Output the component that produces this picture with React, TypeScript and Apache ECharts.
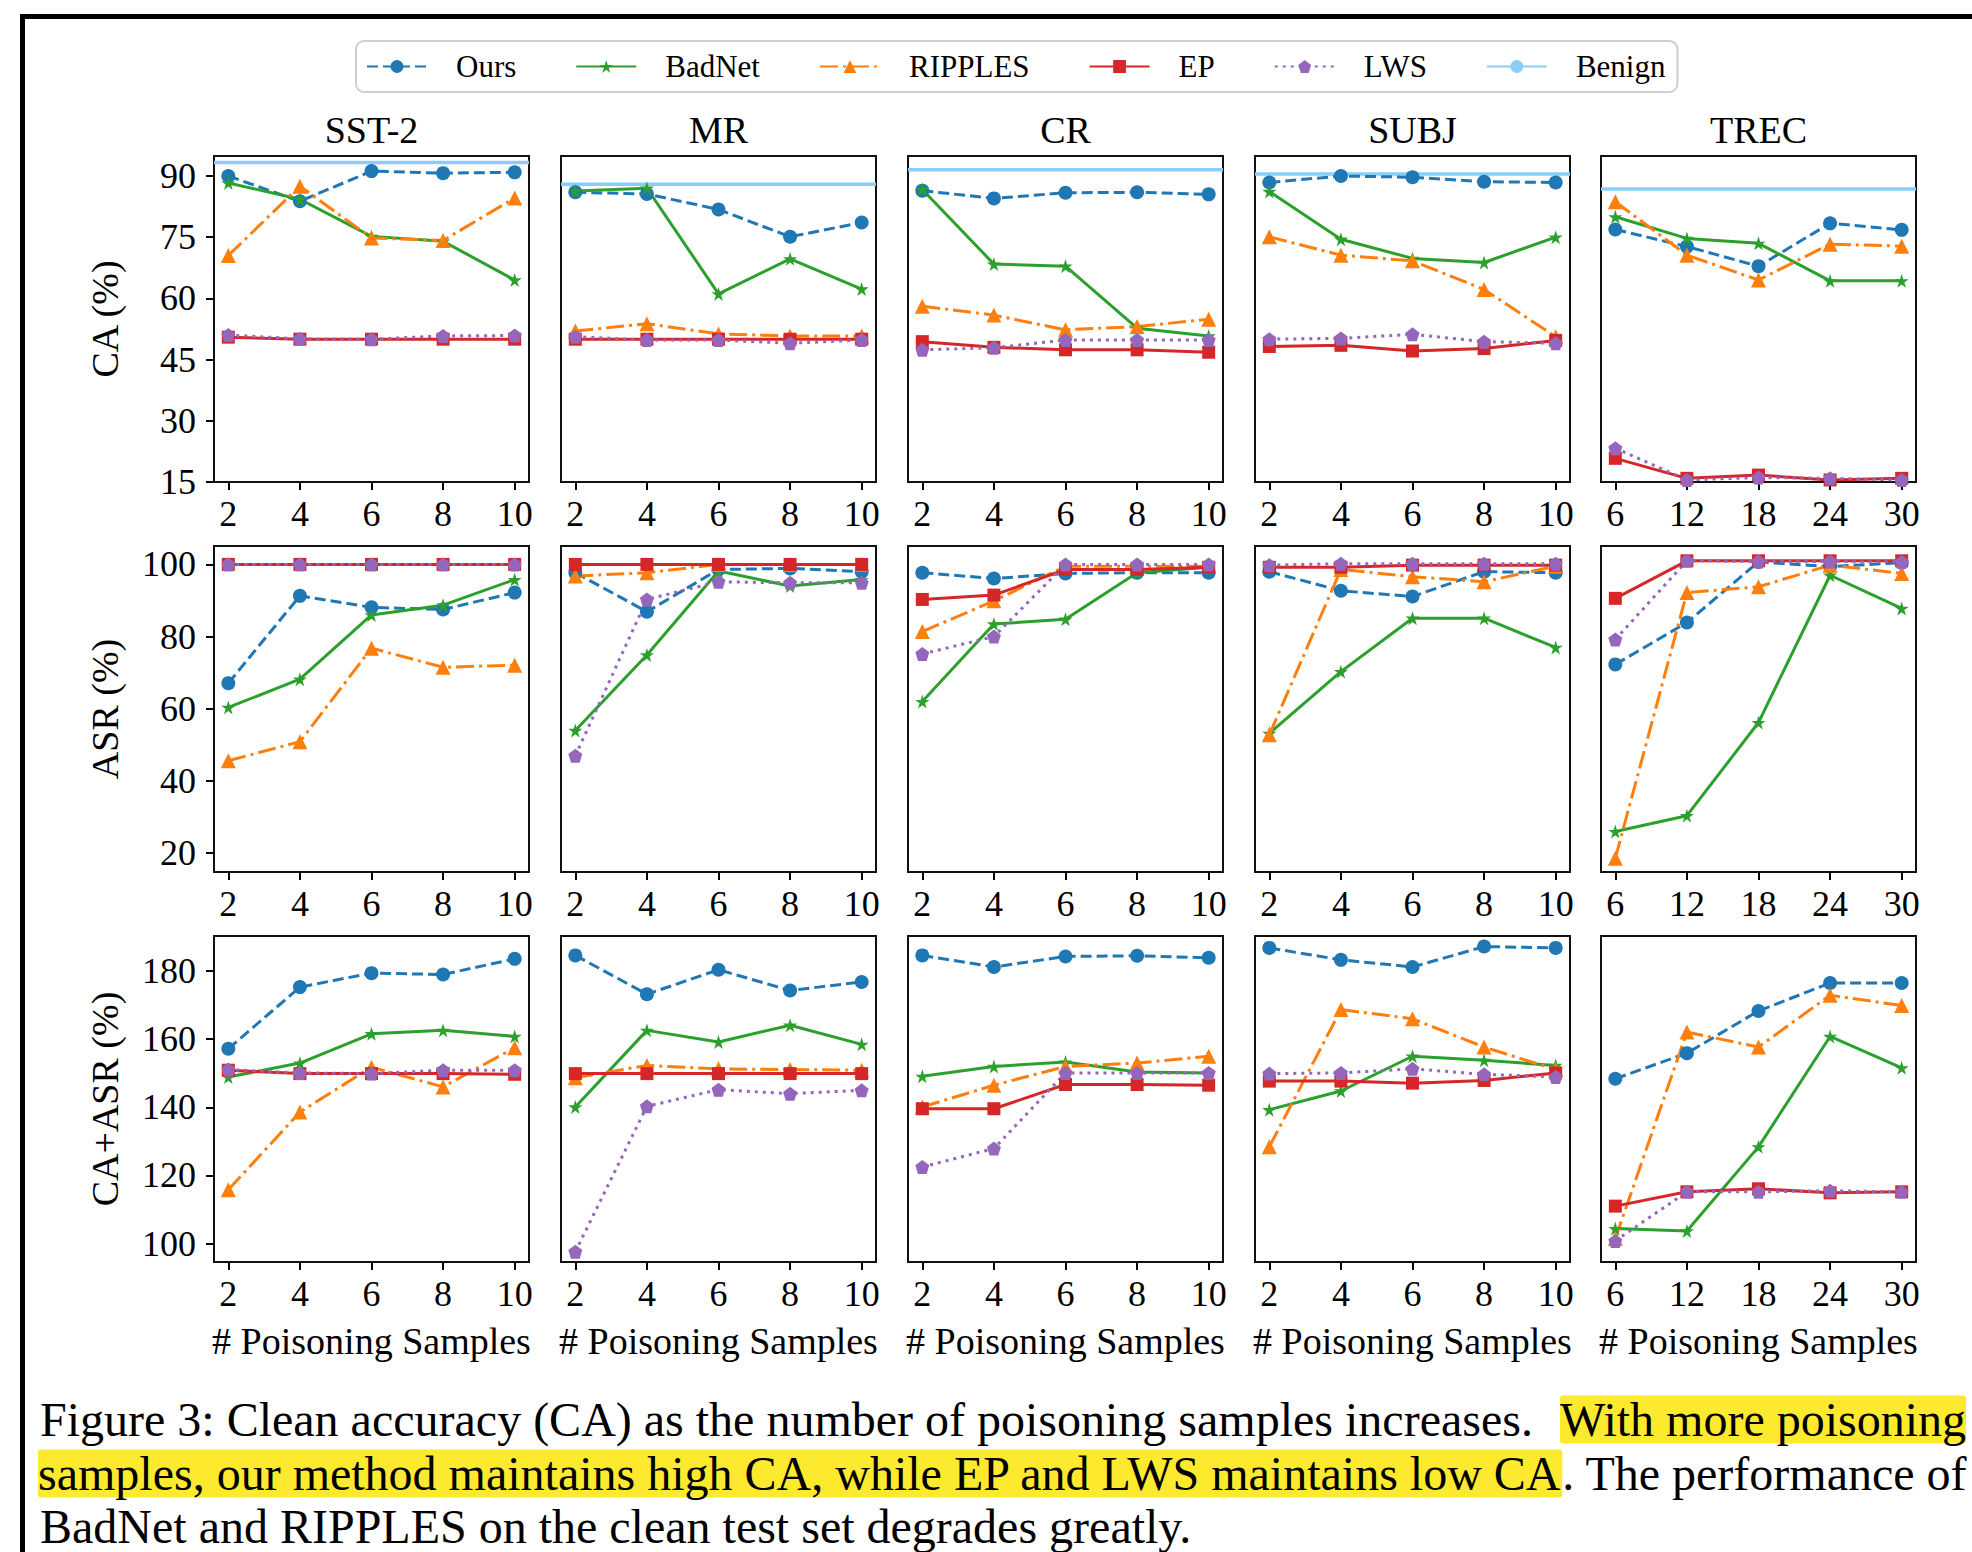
import React, { useEffect, useRef } from 'react';
import * as echarts from 'echarts';

// ---------------- data ----------------
const DATASETS = ['SST-2', 'MR', 'CR', 'SUBJ', 'TREC'];
const METHODS = ['Ours', 'BadNet', 'RIPPLES', 'EP', 'LWS'];
const LEGEND_NAMES = ['Ours', 'BadNet', 'RIPPLES', 'EP', 'LWS', 'Benign'];
const X_SMALL = [2, 4, 6, 8, 10];
const X_TREC = [6, 12, 18, 24, 30];
const X_RANGE_SMALL = [1.6, 10.4];
const X_RANGE_TREC = [4.8, 31.2];
const ROW_NAMES = ['CA (%)', 'ASR (%)', 'CA+ASR (%)'];
const Y_TICKS_CA = [15, 30, 45, 60, 75, 90];
const Y_TICKS_ASR = [20, 40, 60, 80, 100];
const Y_TICKS_SUM = [100, 120, 140, 160, 180];
const Y_RANGE_CA = [15, 94.9];
const Y_RANGE_ASR = [14.8, 105.1];
const Y_RANGE_SUM = [94.6, 190.3];
const X_NAME = '# Poisoning Samples';

const BENIGN_CA = [93.3, 88.0, 91.5, 90.5, 86.8];

// rows: Ours, BadNet, RIPPLES, EP, LWS
const CA_SST2 = [
  [90.0, 83.8, 91.2, 90.7, 90.9],
  [88.3, 84.3, 75.2, 74.0, 64.5],
  [70.5, 87.5, 74.8, 74.2, 84.6],
  [50.5, 50.0, 50.0, 50.0, 50.0],
  [51.0, 50.1, 50.0, 50.8, 50.9],
];
const CA_MR = [
  [86.0, 85.6, 81.8, 75.1, 78.6],
  [86.3, 87.0, 61.1, 69.7, 62.3],
  [52.0, 53.8, 51.3, 50.8, 50.8],
  [50.0, 50.0, 50.0, 50.0, 50.0],
  [50.6, 49.8, 49.8, 49.0, 49.8],
];
const CA_CR = [
  [86.4, 84.5, 85.9, 86.0, 85.5],
  [86.7, 68.4, 67.9, 52.7, 50.8],
  [58.1, 55.9, 52.3, 53.1, 54.9],
  [49.4, 48.0, 47.4, 47.4, 46.8],
  [47.4, 47.9, 49.8, 49.8, 49.8],
];
const CA_SUBJ = [
  [88.4, 90.0, 89.7, 88.6, 88.4],
  [86.2, 74.5, 69.8, 68.8, 75.0],
  [75.1, 70.6, 69.2, 62.2, 50.6],
  [48.2, 48.5, 47.1, 47.7, 49.7],
  [50.0, 50.2, 51.2, 49.4, 49.0],
];
const CA_TREC = [
  [76.9, 72.7, 67.9, 78.4, 76.8],
  [80.0, 74.7, 73.5, 64.3, 64.3],
  [83.7, 70.6, 64.5, 73.3, 72.8],
  [20.8, 15.9, 16.7, 15.5, 15.9],
  [23.3, 15.5, 16.1, 15.9, 15.5],
];

const ASR_SST2 = [
  [67.1, 91.3, 88.1, 87.5, 92.2],
  [60.4, 68.2, 86.0, 88.7, 95.8],
  [45.6, 50.9, 76.8, 71.5, 72.1],
  [100, 100, 100, 100, 100],
  [100, 100, 100, 100, 100],
];
const ASR_MR = [
  [97.7, 86.9, 98.6, 98.9, 98.0],
  [54.0, 74.9, 98.2, 94.0, 95.8],
  [96.8, 97.7, 100, 100, 100],
  [100, 100, 100, 100, 100],
  [47.0, 90.3, 95.2, 94.9, 94.9],
];
const ASR_CR = [
  [97.7, 96.1, 97.5, 97.7, 97.7],
  [62.0, 83.5, 84.8, 97.7, 99.2],
  [81.4, 89.9, 99.5, 99.5, 99.5],
  [90.3, 91.5, 98.6, 98.6, 99.2],
  [75.2, 80.0, 100, 100, 100],
];
const ASR_SUBJ = [
  [98.0, 92.7, 91.1, 98.0, 97.7],
  [53.2, 70.3, 85.1, 85.1, 77.0],
  [52.8, 98.6, 96.6, 95.2, 99.5],
  [99.2, 99.2, 99.8, 99.8, 99.8],
  [99.8, 100.2, 100.2, 100.2, 100.2],
];
const ASR_TREC = [
  [72.3, 83.9, 100.7, 99.4, 100.5],
  [26.0, 30.4, 56.2, 97.0, 87.8],
  [18.6, 92.2, 93.8, 99.8, 97.5],
  [90.6, 101.0, 101.0, 101.0, 101.0],
  [79.2, 101.0, 100.8, 100.8, 100.7],
];

const SUM_SST2 = [
  [157.2, 175.3, 179.4, 179.0, 183.6],
  [148.9, 153.0, 161.6, 162.6, 160.8],
  [115.8, 138.6, 151.8, 146.0, 157.5],
  [150.9, 149.9, 149.9, 149.9, 149.7],
  [151.1, 150.1, 149.9, 150.9, 150.9],
];
const SUM_MR = [
  [184.6, 173.2, 180.4, 174.3, 176.8],
  [140.1, 162.6, 159.2, 164.1, 158.5],
  [148.7, 152.3, 151.3, 151.1, 150.9],
  [149.9, 149.9, 149.9, 149.9, 149.9],
  [97.6, 140.3, 145.2, 144.0, 145.0],
];
const SUM_CR = [
  [184.6, 181.2, 184.3, 184.5, 183.9],
  [149.1, 152.0, 153.3, 150.4, 150.1],
  [140.1, 146.5, 152.0, 153.0, 155.0],
  [139.6, 139.6, 146.7, 146.7, 146.5],
  [122.5, 127.9, 150.1, 150.1, 150.1],
];
const SUM_SUBJ = [
  [186.8, 183.3, 181.2, 187.2, 186.8],
  [139.3, 144.8, 155.0, 153.8, 152.3],
  [128.4, 168.7, 166.0, 157.7, 151.1],
  [147.7, 147.7, 147.1, 147.9, 150.1],
  [149.9, 150.1, 151.3, 149.7, 148.9],
];
const SUM_TREC = [
  [148.4, 155.9, 168.3, 176.5, 176.5],
  [104.4, 103.7, 128.4, 160.8, 151.6],
  [101.5, 162.1, 157.7, 172.9, 169.9],
  [111.0, 115.2, 116.1, 114.9, 115.2],
  [100.8, 115.2, 115.2, 115.5, 115.2],
];

const CAPTION_1 = 'Figure 3: Clean accuracy (CA) as the number of poisoning samples increases.';
const CAPTION_1_HL = 'With more poisoning';
const CAPTION_2_HL = 'samples, our method maintains high CA, while EP and LWS maintains low CA';
const CAPTION_2 = '. The performance of';
const CAPTION_3 = 'BadNet and RIPPLES on the clean test set degrades greatly.';

// ---------------- styles / layout ----------------
const FONT = 'Liberation Serif';
const STAR = 'path://M50,0L61.2,34.5L97.6,34.5L68.2,55.9L79.4,90.5L50,69.1L20.6,90.5L31.8,55.9L2.4,34.5L38.8,34.5Z';
const PENTA = 'path://M50,0L97.6,34.5L79.4,90.5L20.6,90.5L2.4,34.5Z';
const METHOD_STYLE: any[] = [
  { color: '#1f77b4', dash: [11, 5], symbol: 'circle', size: 14 },
  { color: '#2ca02c', dash: 'solid', symbol: STAR, size: 14 },
  { color: '#ff7f0e', dash: [18, 5, 3, 5], symbol: 'triangle', size: 15 },
  { color: '#d62728', dash: 'solid', symbol: 'rect', size: 13 },
  { color: '#9467bd', dash: [3, 5], symbol: PENTA, size: 14 },
];
const BENIGN_COLOR = '#87CEFA';

const COL_LEFT = [214, 561, 908, 1255, 1601];
const COL_W = 315;
const ROW_TOP = [156, 546, 936];
const ROW_H = 326;

export default function App() {
  const ref = useRef<HTMLDivElement>(null);

  useEffect(() => {
    if (!ref.current) return;
    const chart = echarts.init(ref.current, undefined, { renderer: 'svg' });

    const rowData = [
      [CA_SST2, CA_MR, CA_CR, CA_SUBJ, CA_TREC],
      [ASR_SST2, ASR_MR, ASR_CR, ASR_SUBJ, ASR_TREC],
      [SUM_SST2, SUM_MR, SUM_CR, SUM_SUBJ, SUM_TREC],
    ];
    const rowRange = [Y_RANGE_CA, Y_RANGE_ASR, Y_RANGE_SUM];
    const rowTicks = [Y_TICKS_CA, Y_TICKS_ASR, Y_TICKS_SUM];

    const grids: any[] = [];
    const xAxes: any[] = [];
    const yAxes: any[] = [];
    const series: any[] = [];

    for (let r = 0; r < 3; r++) {
      for (let c = 0; c < 5; c++) {
        const i = r * 5 + c;
        const isTrec = c === 4;
        const xs = isTrec ? X_TREC : X_SMALL;
        const xr = isTrec ? X_RANGE_TREC : X_RANGE_SMALL;
        grids.push({
          left: COL_LEFT[c], top: ROW_TOP[r], width: COL_W, height: ROW_H,
          show: true, borderColor: '#111', borderWidth: 2, backgroundColor: 'transparent',
          containLabel: false,
        });
        xAxes.push({
          type: 'value', gridIndex: i, min: xr[0], max: xr[1],
          axisLine: { show: false },
          splitLine: { show: false },
          axisTick: { show: true, customValues: xs, length: 8, lineStyle: { color: '#000', width: 2 } },
          axisLabel: { customValues: xs, fontSize: 36, fontFamily: FONT, color: '#000', margin: 14 },
          name: r === 2 ? X_NAME : '',
          nameLocation: 'middle',
          nameGap: 60,
          nameTextStyle: { fontSize: 38, fontFamily: FONT, color: '#000' },
        });
        yAxes.push({
          type: 'value', gridIndex: i, min: rowRange[r][0], max: rowRange[r][1],
          axisLine: { show: false },
          splitLine: { show: false },
          axisTick: { show: c === 0, customValues: rowTicks[r], length: 8, lineStyle: { color: '#000', width: 2 } },
          axisLabel: { show: c === 0, customValues: rowTicks[r], fontSize: 36, fontFamily: FONT, color: '#000', margin: 18 },
          name: c === 0 ? ROW_NAMES[r] : '',
          nameLocation: 'middle',
          nameRotate: 90,
          nameGap: 90,
          nameTextStyle: { fontSize: 38, fontFamily: FONT, color: '#000' },
        });
        if (r === 0) {
          series.push({
            type: 'line', name: 'Benign', xAxisIndex: i, yAxisIndex: i,
            data: [[xr[0], BENIGN_CA[c]], [xr[1], BENIGN_CA[c]]],
            symbol: 'none', showSymbol: false,
            lineStyle: { color: BENIGN_COLOR, width: 3.5 },
            itemStyle: { color: BENIGN_COLOR },
            silent: true, animation: false,
          });
        }
        const d = rowData[r][c];
        METHODS.forEach((m, k) => {
          const st = METHOD_STYLE[k];
          series.push({
            type: 'line', name: m, xAxisIndex: i, yAxisIndex: i,
            data: xs.map((x, j) => [x, d[k][j]]),
            symbol: st.symbol, symbolSize: st.size, showSymbol: true,
            lineStyle: { color: st.color, width: 3, type: st.dash },
            itemStyle: { color: st.color },
            clip: false, silent: true, animation: false,
          });
        });
      }
    }

    const titleTexts = DATASETS.map((t, c) => ({
      type: 'text',
      x: COL_LEFT[c] + COL_W / 2, y: 130,
      style: { text: t, fontSize: 38, fontFamily: FONT, fill: '#000', align: 'center', verticalAlign: 'middle' },
    }));

    const capStyle = { fontSize: 48, fontFamily: FONT, fill: '#000', lineHeight: 53, align: 'left', verticalAlign: 'top' };
    const hl = { backgroundColor: '#FDE92E', fontSize: 48, fontFamily: FONT, color: '#000', lineHeight: 53, borderRadius: 3 };

    const option: any = {
      animation: false,
      backgroundColor: '#fff',
      textStyle: { fontFamily: FONT, color: '#000' },
      legend: {
        data: LEGEND_NAMES,
        left: 356, top: 41,
        orient: 'horizontal',
        itemWidth: 60, itemHeight: 16, itemGap: 59,
        padding: [10, 12, 10, 10],
        borderColor: '#cfcfcf', borderWidth: 2, borderRadius: 8,
        backgroundColor: '#fff',
        selectedMode: false,
        textStyle: { fontSize: 31, fontFamily: FONT, color: '#000', padding: [0, 0, 0, 24] },
      },
      grid: grids,
      xAxis: xAxes,
      yAxis: yAxes,
      series,
      graphic: [
        { type: 'rect', shape: { x: 20, y: 14, width: 1952, height: 5 }, style: { fill: '#000' } },
        { type: 'rect', shape: { x: 20, y: 14, width: 5, height: 1538 }, style: { fill: '#000' } },
        ...titleTexts,
        { type: 'text', x: 40, y: 1393, style: { ...capStyle, text: CAPTION_1 } },
        {
          type: 'text', x: 1560, y: 1393,
          style: { ...capStyle, text: '{hl|' + CAPTION_1_HL + '}', rich: { hl } },
        },
        {
          type: 'text', x: 38, y: 1447,
          style: { ...capStyle, text: '{hl|' + CAPTION_2_HL + '}' + CAPTION_2, rich: { hl } },
        },
        { type: 'text', x: 40, y: 1500, style: { ...capStyle, text: CAPTION_3 } },
      ],
    };

    chart.setOption(option);
    return () => chart.dispose();
  }, []);

  return (
    <div
      ref={ref}
      style={{ position: 'fixed', left: 0, top: 0, width: 1972, height: 1552, background: '#fff' }}
    />
  );
}
